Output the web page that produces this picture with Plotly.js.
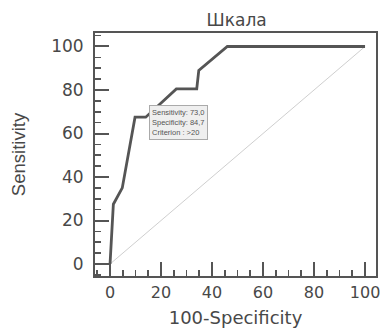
<!DOCTYPE html>
<html>
<head>
<meta charset="utf-8">
<script src="https://cdn.plot.ly/plotly-3.0.1.min.js"></script>
<style>html,body{margin:0;padding:0;background:#fff;}#chart{width:383px;height:328px;}</style>
</head>
<body>
<div id="chart"></div>
<script>
const rocX = [0, 1.3, 4.8, 9.8, 14, 26, 34, 34.8, 46, 100];
const rocY = [0, 27.5, 35, 67.5, 67.5, 80.5, 80.5, 89, 100, 100];
const diagX = [0, 100];
const diagY = [0, 100];
const tipPoint = {x: 15.3, y: 73};
const tipLines = ["Sensitivity: 73,0", "Specificity: 84,7", "Criterion : >20"];
const xTicks = [0, 20, 40, 60, 80, 100];
const yTicks = [0, 20, 40, 60, 80, 100];

const WIDE = 'DejaVu Sans, Verdana, sans-serif';
const NARROW = 'Liberation Sans, Arial, sans-serif';

const traces = [
  {x: diagX, y: diagY, mode: 'lines', line: {color: '#cfcfcf', width: 1}, hoverinfo: 'skip'},
  {x: rocX, y: rocY, mode: 'lines', line: {color: '#555555', width: 2.8}, hoverinfo: 'skip'}
];

const axisCommon = {
  showgrid: false, zeroline: false,
  showline: true, linecolor: '#555555', linewidth: 2, mirror: true,
  ticks: 'inside', ticklen: 14, tickwidth: 2, tickcolor: '#555555',
  minor: {ticks: 'inside', ticklen: 6, tickwidth: 1.6, tickcolor: '#555555', dtick: 5, showgrid: false}
};

const layout = {
  width: 383, height: 328,
  margin: {l: 95, r: 7, t: 33, b: 52},
  paper_bgcolor: '#ffffff', plot_bgcolor: '#ffffff',
  showlegend: false,
  title: {text: 'Шкала', x: 0.618, xanchor: 'center', y: 0.938, yanchor: 'middle',
          font: {family: WIDE, size: 17, color: '#484848'}},
  xaxis: Object.assign({}, axisCommon, {
    range: [-5.9, 104.3], tickvals: xTicks, ticktext: xTicks.map(String),
    ticklabelstandoff: 1,
    tickfont: {family: WIDE, size: 16, color: '#484848'},
    title: {text: '100-Specificity', standoff: 10, font: {family: WIDE, size: 18, color: '#484848'}}
  }),
  yaxis: Object.assign({}, axisCommon, {
    range: [-5.5, 106.2], tickvals: yTicks, ticktext: yTicks.map(String),
    ticklabelstandoff: 6,
    tickfont: {family: WIDE, size: 17, color: '#484848'},
    title: {text: 'Sensitivity', standoff: 21, font: {family: NARROW, size: 18.5, color: '#484848'}}
  }),
  annotations: [{
    x: tipPoint.x, y: tipPoint.y, xref: 'x', yref: 'y',
    xanchor: 'left', yanchor: 'top', showarrow: false, align: 'left',
    text: tipLines.join('<br>'),
    font: {family: NARROW, size: 7.5, color: '#555555'},
    bgcolor: '#efefef', bordercolor: '#aaaaaa', borderwidth: 1, borderpad: 2
  }]
};

Plotly.newPlot('chart', traces, layout, {staticPlot: true, displayModeBar: false});
</script>
</body>
</html>
